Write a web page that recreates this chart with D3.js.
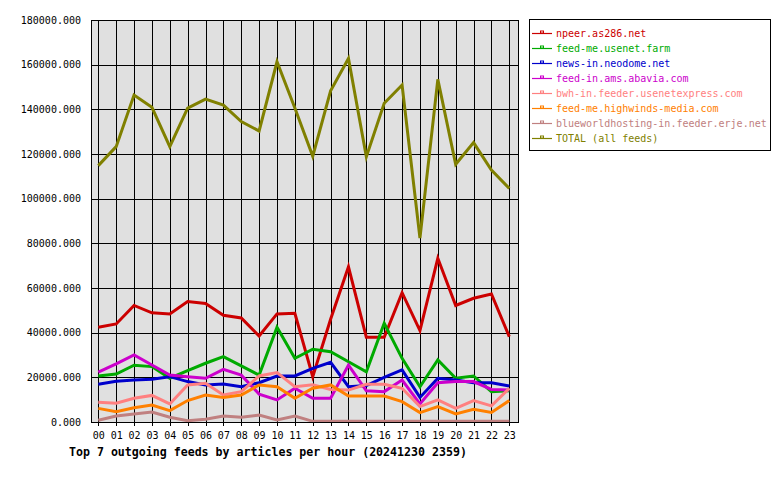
<!DOCTYPE html>
<html>
<head>
<meta charset="utf-8">
<script src="https://cdn.jsdelivr.net/npm/d3@7"></script>
<style>
  body { margin: 0; background: #fff; }
  svg { display: block; font-family: "DejaVu Sans Mono", monospace; }
</style>
</head>
<body>
<div id="chart"></div>
<script>
// hours of the day
const hours = d3.range(24).map((h) => (h < 10 ? "0" : "") + h);

// feed names (legend order)
const feeds = [
  "npeer.as286.net",
  "feed-me.usenet.farm",
  "news-in.neodome.net",
  "feed-in.ams.abavia.com",
  "bwh-in.feeder.usenetexpress.com",
  "feed-me.highwinds-media.com",
  "blueworldhosting-in.feeder.erje.net",
  "TOTAL (all feeds)",
];
const colors = ["#cc0000", "#00aa00", "#0000cc", "#cc00cc", "#ff8080", "#ff8000", "#c08080", "#808000"];

// articles per hour
const npeer = [42400, 43900, 52200, 48900, 48400, 53900, 53100, 47800, 46600, 38500, 48400, 48700,
  20300, 46000, 69500, 37900, 37900, 57900, 40900, 73300, 52200, 55400, 57300, 38200];
const usenetFarm = [20600, 21500, 25400, 24800, 19600, 23000, 26300, 29300, 25100, 21000, 42400, 28500,
  32600, 31500, 27000, 22500, 44200, 28500, 15800, 27800, 19600, 20600, 13600, 14000];
const neodome = [16900, 18200, 18800, 19100, 20300, 18100, 16600, 17000, 15800, 17600, 20600, 20600,
  24000, 26700, 15800, 16300, 20000, 23300, 11000, 19600, 18800, 17600, 17600, 16100];
const abavia = [22300, 26000, 30000, 25500, 21000, 20300, 19600, 23600, 21000, 12500, 9900, 15100,
  10600, 10600, 25500, 14000, 13600, 18800, 8100, 17600, 18100, 18100, 14600, 14300];
const usenetexpress = [8800, 8400, 10600, 11900, 8100, 16600, 17300, 12100, 13600, 20600, 22100, 15800,
  16700, 14600, 14300, 16900, 16900, 15100, 6900, 9900, 6100, 9600, 7200, 15100];
const highwinds = [6100, 4600, 6400, 7600, 5100, 9600, 12100, 11000, 12100, 16600, 15800, 10600,
  15100, 16600, 11600, 11600, 11600, 9100, 4200, 6900, 3600, 5700, 4300, 9600];
const erje = [800, 2700, 3600, 4500, 2100, 600, 1200, 2700, 2100, 3100, 900, 2700,
  300, 300, 300, 300, 300, 300, 300, 300, 300, 300, 300, 300];
const total = [114800, 123300, 146400, 140900, 123300, 140500, 144600, 141900, 134500, 130300, 161300, 140600,
  119000, 148300, 162800, 118800, 142700, 150900, 82300, 153400, 115400, 125100, 112800, 104600];

const series = [npeer, usenetFarm, neodome, abavia, usenetexpress, highwinds, erje, total];

const yTicks = d3.range(0, 180001, 20000);
const title = "Top 7 outgoing feeds by articles per hour (20241230 2359)";

const width = 780, height = 480;
const plot = { left: 91, right: 518, top: 20, bottom: 422 };

const svg = d3.select("#chart").append("svg")
  .attr("width", width)
  .attr("height", height);

const x = d3.scalePoint().domain(hours).range([98.3, 509.3]);
const y = d3.scaleLinear().domain([0, 180000]).range([plot.bottom, plot.top]);

// plot background
svg.append("rect")
  .attr("x", plot.left).attr("y", plot.top)
  .attr("width", plot.right - plot.left).attr("height", plot.bottom - plot.top)
  .attr("fill", "#e0e0e0");

// grid
const grid = svg.append("g").attr("shape-rendering", "crispEdges").attr("stroke", "#000");
grid.selectAll("line.h").data(yTicks).join("line")
  .attr("class", "h")
  .attr("x1", plot.left).attr("x2", plot.right)
  .attr("y1", (d) => Math.round(y(d)) + 0.5).attr("y2", (d) => Math.round(y(d)) + 0.5);
grid.selectAll("line.v").data(hours).join("line")
  .attr("class", "v")
  .attr("x1", (d) => Math.round(x(d)) + 0.5).attr("x2", (d) => Math.round(x(d)) + 0.5)
  .attr("y1", plot.top).attr("y2", plot.bottom + 4);

// y labels
svg.append("g").selectAll("text").data(yTicks).join("text")
  .attr("x", 81)
  .attr("y", (d) => y(d) + 3.5)
  .attr("text-anchor", "end")
  .attr("font-size", 10)
  .text((d) => d3.format(".3f")(d));

// x labels
svg.append("g").selectAll("text").data(hours).join("text")
  .attr("x", (d) => x(d) + 0.5)
  .attr("y", 438.5)
  .attr("text-anchor", "middle")
  .attr("font-size", 10)
  .text((d) => d);

// lines
const line = d3.line()
  .x((d, i) => x(hours[i]))
  .y((d) => y(d));

svg.append("g").selectAll("path").data(series).join("path")
  .attr("d", (d) => line(d))
  .attr("fill", "none")
  .attr("stroke", (d, i) => colors[i])
  .attr("stroke-width", 3)
  .attr("stroke-linejoin", "miter")
  .attr("stroke-miterlimit", 6);

// frame on top
svg.append("rect")
  .attr("x", plot.left + 0.5).attr("y", plot.top + 0.5)
  .attr("width", plot.right - plot.left).attr("height", plot.bottom - plot.top)
  .attr("fill", "none")
  .attr("stroke", "#000")
  .attr("shape-rendering", "crispEdges");

// title
svg.append("text")
  .attr("x", 69)
  .attr("y", 456)
  .attr("font-size", 11.6)
  .attr("font-weight", "bold")
  .text(title);

// legend
const legend = svg.append("g");
legend.append("rect")
  .attr("x", 529.5).attr("y", 19.5)
  .attr("width", 241).attr("height", 131)
  .attr("fill", "#fff")
  .attr("stroke", "#000")
  .attr("shape-rendering", "crispEdges");

const items = legend.selectAll("g.item").data(feeds).join("g")
  .attr("class", "item")
  .attr("transform", (d, i) => `translate(0,${33.5 + i * 15})`);
items.append("line")
  .attr("x1", 532).attr("x2", 552)
  .attr("stroke", (d, i) => colors[i])
  .attr("stroke-width", 1.2);
items.append("rect")
  .attr("x", 540.5).attr("y", -2.5)
  .attr("width", 3).attr("height", 2)
  .attr("fill", "none")
  .attr("stroke", (d, i) => colors[i]);
items.append("text")
  .attr("x", 556)
  .attr("y", 3.5)
  .attr("font-size", 10)
  .attr("fill", (d, i) => colors[i])
  .text((d) => d);
</script>
</body>
</html>
